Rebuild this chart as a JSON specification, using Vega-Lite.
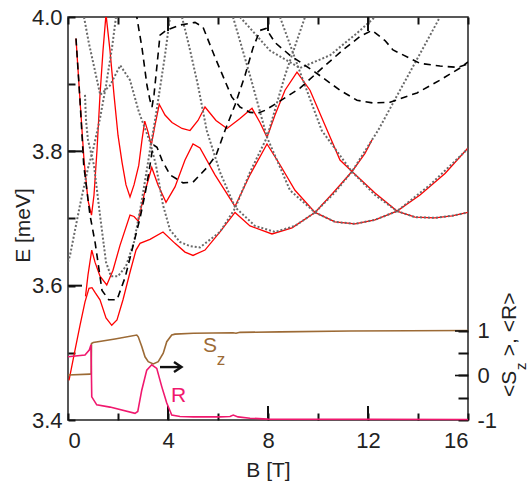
{
  "$schema": "https://vega.github.io/schema/vega-lite/v6.json",
  "width": 400,
  "height": 403,
  "autosize": "none",
  "padding": {"left": 68, "top": 17, "right": 59, "bottom": 65},
  "config": {
    "font": "Liberation Sans",
    "view": {"stroke": "#222", "strokeWidth": 1.5},
    "axis": {"grid": false, "domain": false, "ticks": true, "tickColor": "#111111", "tickWidth": 2, "labelColor": "#222", "titleColor": "#222", "labelFontSize": 22, "titleFontSize": 21, "titleFontWeight": "normal"}
  },
  "datasets": {
    "red": [
      {"s":"r1","B":0.32,"E":3.968},{"s":"r1","B":0.48,"E":3.876},{"s":"r1","B":0.64,"E":3.787},{"s":"r1","B":0.80,"E":3.727},{"s":"r1","B":0.94,"E":3.705},{"s":"r1","B":1.04,"E":3.735},{"s":"r1","B":1.16,"E":3.802},{"s":"r1","B":1.28,"E":3.884},{"s":"r1","B":1.40,"E":3.950},{"s":"r1","B":1.52,"E":4.004},{"s":"r1","B":1.68,"E":3.950},{"s":"r1","B":1.84,"E":3.884},{"s":"r1","B":2.00,"E":3.824},{"s":"r1","B":2.16,"E":3.784},{"s":"r1","B":2.32,"E":3.750},{"s":"r1","B":2.48,"E":3.732},{"s":"r1","B":2.64,"E":3.750},{"s":"r1","B":2.83,"E":3.779},{"s":"r1","B":2.96,"E":3.817},{"s":"r1","B":3.07,"E":3.845},{"s":"r1","B":3.20,"E":3.829},{"s":"r1","B":3.33,"E":3.809},{"s":"r1","B":3.48,"E":3.839},{"s":"r1","B":3.65,"E":3.870},{"s":"r1","B":3.88,"E":3.854},{"s":"r1","B":4.16,"E":3.843},{"s":"r1","B":4.56,"E":3.834},{"s":"r1","B":4.88,"E":3.831},{"s":"r1","B":5.20,"E":3.846},{"s":"r1","B":5.48,"E":3.866},{"s":"r1","B":5.92,"E":3.846},{"s":"r1","B":6.36,"E":3.834},{"s":"r1","B":6.88,"E":3.849},{"s":"r1","B":7.36,"E":3.864},{"s":"r1","B":7.68,"E":3.843},{"s":"r1","B":7.96,"E":3.821},{"s":"r1","B":8.28,"E":3.854},{"s":"r1","B":8.68,"E":3.891},{"s":"r1","B":9.16,"E":3.918},{"s":"r1","B":9.68,"E":3.891},{"s":"r1","B":10.28,"E":3.839},{"s":"r1","B":10.88,"E":3.787},{"s":"r1","B":11.36,"E":3.770},{"s":"r1","B":12.28,"E":3.738},{"s":"r1","B":13.16,"E":3.711},{"s":"r1","B":13.88,"E":3.702},{"s":"r1","B":14.68,"E":3.701},{"s":"r1","B":15.36,"E":3.704},{"s":"r1","B":16.0,"E":3.709},
      {"s":"r2","B":0.70,"E":3.584},{"s":"r2","B":0.80,"E":3.616},{"s":"r2","B":0.95,"E":3.653},{"s":"r2","B":1.08,"E":3.635},{"s":"r2","B":1.28,"E":3.614},{"s":"r2","B":1.55,"E":3.601},{"s":"r2","B":1.80,"E":3.623},{"s":"r2","B":2.08,"E":3.660},{"s":"r2","B":2.48,"E":3.705},{"s":"r2","B":2.64,"E":3.703},{"s":"r2","B":2.81,"E":3.696},{"s":"r2","B":3.04,"E":3.735},{"s":"r2","B":3.35,"E":3.776},{"s":"r2","B":3.60,"E":3.750},{"s":"r2","B":3.92,"E":3.724},{"s":"r2","B":4.28,"E":3.747},{"s":"r2","B":4.68,"E":3.787},{"s":"r2","B":5.00,"E":3.811},{"s":"r2","B":5.28,"E":3.805},{"s":"r2","B":5.88,"E":3.765},{"s":"r2","B":6.68,"E":3.718},{"s":"r2","B":7.28,"E":3.765},{"s":"r2","B":7.96,"E":3.811},{"s":"r2","B":8.48,"E":3.780},{"s":"r2","B":9.08,"E":3.742},{"s":"r2","B":9.88,"E":3.709},{"s":"r2","B":10.68,"E":3.695},{"s":"r2","B":11.48,"E":3.692},{"s":"r2","B":12.28,"E":3.698},{"s":"r2","B":13.16,"E":3.711},{"s":"r2","B":14.08,"E":3.735},{"s":"r2","B":15.08,"E":3.767},{"s":"r2","B":16.0,"E":3.805},
      {"s":"r3","B":0.04,"E":3.459},{"s":"r3","B":0.28,"E":3.504},{"s":"r3","B":0.48,"E":3.541},{"s":"r3","B":0.68,"E":3.576},{"s":"r3","B":0.84,"E":3.596},{"s":"r3","B":0.96,"E":3.597},{"s":"r3","B":1.08,"E":3.590},{"s":"r3","B":1.28,"E":3.579},{"s":"r3","B":1.52,"E":3.552},{"s":"r3","B":1.75,"E":3.541},{"s":"r3","B":1.96,"E":3.549},{"s":"r3","B":2.20,"E":3.579},{"s":"r3","B":2.48,"E":3.620},{"s":"r3","B":2.72,"E":3.653},{"s":"r3","B":2.88,"E":3.663},{"s":"r3","B":3.28,"E":3.669},{"s":"r3","B":3.80,"E":3.680},{"s":"r3","B":4.28,"E":3.663},{"s":"r3","B":4.68,"E":3.650},{"s":"r3","B":5.00,"E":3.645},{"s":"r3","B":5.48,"E":3.653},{"s":"r3","B":6.08,"E":3.680},{"s":"r3","B":6.68,"E":3.709},{"s":"r3","B":7.28,"E":3.689},{"s":"r3","B":8.16,"E":3.677},{"s":"r3","B":8.96,"E":3.686},{"s":"r3","B":9.88,"E":3.709},{"s":"r3","B":10.60,"E":3.738},{"s":"r3","B":11.36,"E":3.770},{"s":"r3","B":11.88,"E":3.797},{"s":"r3","B":12.16,"E":3.817}
    ],
    "dot": [
      {"s":"dA","B":0.0,"E":3.635},{"s":"dA","B":0.08,"E":3.645},{"s":"dA","B":0.48,"E":3.720},{"s":"dA","B":0.80,"E":3.775},{"s":"dA","B":1.00,"E":3.802},{"s":"dA","B":1.28,"E":3.849},{"s":"dA","B":1.52,"E":3.898},{"s":"dA","B":1.76,"E":3.954},{"s":"dA","B":1.92,"E":4.0},
      {"s":"dB","B":0.64,"E":4.0},{"s":"dB","B":0.83,"E":3.962},{"s":"dB","B":1.09,"E":3.918},{"s":"dB","B":1.29,"E":3.884},{"s":"dB","B":1.68,"E":3.898},{"s":"dB","B":2.09,"E":3.928},{"s":"dB","B":2.48,"E":3.906},{"s":"dB","B":2.84,"E":3.858},{"s":"dB","B":3.28,"E":3.814},{"s":"dB","B":3.52,"E":3.779},{"s":"dB","B":3.80,"E":3.720},{"s":"dB","B":4.08,"E":3.683},{"s":"dB","B":4.48,"E":3.665},{"s":"dB","B":4.88,"E":3.659},{"s":"dB","B":5.28,"E":3.657},{"s":"dB","B":6.08,"E":3.680},{"s":"dB","B":6.68,"E":3.715},{"s":"dB","B":7.28,"E":3.769},{"s":"dB","B":7.96,"E":3.821},{"s":"dB","B":8.68,"E":3.913},{"s":"dB","B":9.48,"E":4.0},
      {"s":"dG","B":0.68,"E":3.884},{"s":"dG","B":0.72,"E":3.846},{"s":"dG","B":0.80,"E":3.817},{"s":"dG","B":1.04,"E":3.779},{"s":"dG","B":1.28,"E":3.705},{"s":"dG","B":1.52,"E":3.635},{"s":"dG","B":1.72,"E":3.614},{"s":"dG","B":2.00,"E":3.614},{"s":"dG","B":2.32,"E":3.629},{"s":"dG","B":2.64,"E":3.665},{"s":"dG","B":2.92,"E":3.720},{"s":"dG","B":3.12,"E":3.765},{"s":"dG","B":3.28,"E":3.802},{"s":"dG","B":3.48,"E":3.846},{"s":"dG","B":3.68,"E":3.894},{"s":"dG","B":3.88,"E":3.943},{"s":"dG","B":4.08,"E":4.0},
      {"s":"dC","B":4.56,"E":4.0},{"s":"dC","B":4.88,"E":3.951},{"s":"dC","B":5.20,"E":3.898},{"s":"dC","B":5.55,"E":3.831},{"s":"dC","B":6.08,"E":3.769},{"s":"dC","B":6.68,"E":3.717},{"s":"dC","B":7.48,"E":3.689},{"s":"dC","B":8.28,"E":3.680},{"s":"dC","B":9.08,"E":3.689},{"s":"dC","B":9.88,"E":3.709},{"s":"dC","B":10.68,"E":3.739},{"s":"dC","B":11.36,"E":3.770},{"s":"dC","B":12.40,"E":3.831},{"s":"dC","B":13.68,"E":3.918},{"s":"dC","B":14.88,"E":4.0},
      {"s":"dD","B":6.60,"E":4.0},{"s":"dD","B":7.28,"E":3.913},{"s":"dD","B":7.96,"E":3.821},{"s":"dD","B":8.88,"E":3.742},{"s":"dD","B":9.88,"E":3.709},{"s":"dD","B":10.68,"E":3.695},{"s":"dD","B":11.48,"E":3.692},{"s":"dD","B":12.28,"E":3.698},{"s":"dD","B":13.16,"E":3.711},{"s":"dD","B":14.48,"E":3.750},{"s":"dD","B":16.0,"E":3.804},
      {"s":"dE","B":8.48,"E":4.0},{"s":"dE","B":9.28,"E":3.918},{"s":"dE","B":10.15,"E":3.831},{"s":"dE","B":11.35,"E":3.770},{"s":"dE","B":12.28,"E":3.735},{"s":"dE","B":13.16,"E":3.711},{"s":"dE","B":13.88,"E":3.702},{"s":"dE","B":14.68,"E":3.701},{"s":"dE","B":15.36,"E":3.704},{"s":"dE","B":16.0,"E":3.709},
      {"s":"dF","B":6.88,"E":4.0},{"s":"dF","B":8.08,"E":3.950},{"s":"dF","B":9.28,"E":3.924},{"s":"dF","B":10.48,"E":3.943},{"s":"dF","B":11.56,"E":3.976},{"s":"dF","B":12.28,"E":4.0}
    ],
    "dash": [
      {"s":"kU","B":2.72,"E":4.007},{"s":"kU","B":2.96,"E":3.954},{"s":"kU","B":3.16,"E":3.898},{"s":"kU","B":3.28,"E":3.876},{"s":"kU","B":3.36,"E":3.866},{"s":"kU","B":3.44,"E":3.884},{"s":"kU","B":3.56,"E":3.928},{"s":"kU","B":3.68,"E":3.973},{"s":"kU","B":3.92,"E":3.980},{"s":"kU","B":4.48,"E":3.988},{"s":"kU","B":5.08,"E":3.992},{"s":"kU","B":5.40,"E":3.985},{"s":"kU","B":5.88,"E":3.940},{"s":"kU","B":6.55,"E":3.881},{"s":"kU","B":6.88,"E":3.866},{"s":"kU","B":7.28,"E":3.858},{"s":"kU","B":7.60,"E":3.857},{"s":"kU","B":7.88,"E":3.861},{"s":"kU","B":8.36,"E":3.872},{"s":"kU","B":9.28,"E":3.894},{"s":"kU","B":10.20,"E":3.925},{"s":"kU","B":11.00,"E":3.951},{"s":"kU","B":11.68,"E":3.971},{"s":"kU","B":12.16,"E":3.980},{"s":"kU","B":12.68,"E":3.965},{"s":"kU","B":13.00,"E":3.951},{"s":"kU","B":14.08,"E":3.931},{"s":"kU","B":14.88,"E":3.927},{"s":"kU","B":15.60,"E":3.925},{"s":"kU","B":16.0,"E":3.930},
      {"s":"kL","B":0.32,"E":3.968},{"s":"kL","B":0.48,"E":3.876},{"s":"kL","B":0.63,"E":3.779},{"s":"kL","B":0.88,"E":3.705},{"s":"kL","B":1.09,"E":3.663},{"s":"kL","B":1.36,"E":3.593},{"s":"kL","B":1.63,"E":3.579},{"s":"kL","B":1.96,"E":3.579},{"s":"kL","B":2.29,"E":3.613},{"s":"kL","B":2.56,"E":3.653},{"s":"kL","B":2.89,"E":3.702},{"s":"kL","B":3.09,"E":3.738},{"s":"kL","B":3.25,"E":3.772},{"s":"kL","B":3.36,"E":3.799},{"s":"kL","B":3.44,"E":3.809},{"s":"kL","B":3.56,"E":3.806},{"s":"kL","B":3.76,"E":3.787},{"s":"kL","B":4.08,"E":3.765},{"s":"kL","B":4.60,"E":3.753},{"s":"kL","B":5.00,"E":3.754},{"s":"kL","B":5.56,"E":3.776},{"s":"kL","B":5.92,"E":3.794},{"s":"kL","B":6.28,"E":3.831},{"s":"kL","B":6.68,"E":3.869},{"s":"kL","B":7.08,"E":3.913},{"s":"kL","B":7.40,"E":3.954},{"s":"kL","B":7.68,"E":3.980},{"s":"kL","B":7.92,"E":3.983},{"s":"kL","B":8.28,"E":3.962},{"s":"kL","B":8.88,"E":3.943},{"s":"kL","B":9.88,"E":3.918},{"s":"kL","B":10.88,"E":3.891},{"s":"kL","B":11.56,"E":3.876},{"s":"kL","B":12.20,"E":3.872},{"s":"kL","B":12.88,"E":3.873},{"s":"kL","B":13.96,"E":3.887},{"s":"kL","B":14.88,"E":3.906},{"s":"kL","B":15.68,"E":3.924},{"s":"kL","B":16.0,"E":3.933}
    ],
    "expect": [
      {"q":"Sz","p":"Sz","B":0.0,"v":0.01},{"q":"Sz","p":"Sz","B":0.88,"v":0.03},{"q":"Sz","p":"Sz","B":0.93,"v":0.04},{"q":"Sz","p":"Sz","B":0.94,"v":0.72},{"q":"Sz","p":"Sz","B":1.01,"v":0.74},{"q":"Sz","p":"Sz","B":1.88,"v":0.82},{"q":"Sz","p":"Sz","B":2.75,"v":0.91},{"q":"Sz","p":"Sz","B":2.81,"v":0.87},{"q":"Sz","p":"Sz","B":2.95,"v":0.65},{"q":"Sz","p":"Sz","B":3.08,"v":0.42},{"q":"Sz","p":"Sz","B":3.21,"v":0.31},{"q":"Sz","p":"Sz","B":3.41,"v":0.26},{"q":"Sz","p":"Sz","B":3.61,"v":0.31},{"q":"Sz","p":"Sz","B":3.81,"v":0.50},{"q":"Sz","p":"Sz","B":3.95,"v":0.76},{"q":"Sz","p":"Sz","B":4.15,"v":0.91},{"q":"Sz","p":"Sz","B":4.28,"v":0.93},{"q":"Sz","p":"Sz","B":5.01,"v":0.95},{"q":"Sz","p":"Sz","B":6.6,"v":0.96},{"q":"Sz","p":"Sz","B":6.72,"v":0.95},{"q":"Sz","p":"Sz","B":6.88,"v":0.97},{"q":"Sz","p":"Sz","B":8.48,"v":0.98},{"q":"Sz","p":"Sz","B":11.28,"v":1.0},{"q":"Sz","p":"Sz","B":16.0,"v":1.01},
      {"q":"R","p":"R","B":0.0,"v":0.42},{"q":"R","p":"R","B":0.68,"v":0.46},{"q":"R","p":"R","B":0.85,"v":0.57},{"q":"R","p":"R","B":0.92,"v":0.69},{"q":"R","p":"R","B":0.95,"v":-0.48},{"q":"R","p":"R","B":1.15,"v":-0.66},{"q":"R","p":"R","B":1.68,"v":-0.71},{"q":"R","p":"R","B":2.68,"v":-0.85},{"q":"R","p":"R","B":2.79,"v":-0.81},{"q":"R","p":"R","B":2.95,"v":-0.33},{"q":"R","p":"R","B":3.15,"v":0.12},{"q":"R","p":"R","B":3.35,"v":0.24},{"q":"R","p":"R","B":3.55,"v":0.16},{"q":"R","p":"R","B":3.75,"v":-0.25},{"q":"R","p":"R","B":3.95,"v":-0.62},{"q":"R","p":"R","B":4.15,"v":-0.89},{"q":"R","p":"R","B":4.48,"v":-0.92},{"q":"R","p":"R","B":5.01,"v":-0.93},{"q":"R","p":"R","B":6.08,"v":-0.93},{"q":"R","p":"R","B":6.48,"v":-0.92},{"q":"R","p":"R","B":6.61,"v":-0.89},{"q":"R","p":"R","B":6.8,"v":-0.93},{"q":"R","p":"R","B":7.28,"v":-0.96},{"q":"R","p":"R","B":8.0,"v":-0.98},{"q":"R","p":"R","B":16.0,"v":-0.99},
      {"q":"tick","p":"v0","B":15.48,"v":0},{"q":"tick","p":"v0","B":16,"v":0},
      {"q":"tick","p":"v1","B":15.48,"v":1},{"q":"tick","p":"v1","B":16,"v":1}
    ],
    "strokes": [
      {"p":"shaft","i":0,"B":3.68,"E":3.4788},{"p":"shaft","i":1,"B":4.52,"E":3.4788},
      {"p":"head","i":0,"B":4.24,"E":3.4862},{"p":"head","i":1,"B":4.54,"E":3.4788},{"p":"head","i":2,"B":4.24,"E":3.4713},
      {"p":"b4","i":0,"B":4,"E":3.4},{"p":"b4","i":1,"B":4,"E":3.4208},
      {"p":"b8","i":0,"B":8,"E":3.4},{"p":"b8","i":1,"B":8,"E":3.4208},
      {"p":"b12","i":0,"B":12,"E":3.4},{"p":"b12","i":1,"B":12,"E":3.4208},
      {"p":"t4","i":0,"B":4,"E":4.0},{"p":"t4","i":1,"B":4,"E":3.9792},
      {"p":"t8","i":0,"B":8,"E":4.0},{"p":"t8","i":1,"B":8,"E":3.9792},
      {"p":"t12","i":0,"B":12,"E":4.0},{"p":"t12","i":1,"B":12,"E":3.9792},
      {"p":"l36","i":0,"B":0,"E":3.6},{"p":"l36","i":1,"B":0.56,"E":3.6},
      {"p":"l38","i":0,"B":0,"E":3.8},{"p":"l38","i":1,"B":0.56,"E":3.8}
    ],
    "notes": [
      {"t":"S","c":"Sz","B":5.68,"E":3.5108,"big":true},
      {"t":"R","c":"R","B":4.42,"E":3.4364,"big":true},
      {"t":"z","c":"Sz","B":6.12,"E":3.4892,"big":false}
    ],
    "sideTitle": [
      {"t":"<S","B":17.9,"E":3.4342,"big":true},
      {"t":"z","B":18.3,"E":3.4745,"big":false},
      {"t":">, <R>","B":17.9,"E":3.4950,"big":true}
    ]
  },
  "layer": [
    {
      "data": {"name": "red"},
      "mark": {"type": "line", "clip": true, "color": "#ff0000", "strokeWidth": 1.3},
      "encoding": {
        "x": {"field": "B", "type": "quantitative", "scale": {"domain": [0, 16], "nice": false, "zero": false},
              "axis": {"orient": "bottom", "values": [0,2,4,6,8,10,12,14,16], "labelExpr": "datum.value % 4 == 0 ? datum.label : ''", "tickSize": -7, "labelPadding": 17, "title": "B [T]", "titlePadding": 8}},
        "y": {"field": "E", "type": "quantitative", "scale": {"domain": [3.4, 4.0], "nice": false, "zero": false},
              "axis": {"orient": "left", "values": [3.4,3.5,3.6,3.7,3.8,3.9,4.0], "labelExpr": "round(datum.value*10) % 2 == 0 ? format(datum.value, '.1f') : ''", "tickSize": -7, "labelPadding": 13, "title": "E [meV]", "titlePadding": -2, "titleY": 208}},
        "detail": {"field": "s"}
      }
    },
    {
      "data": {"name": "dot"},
      "mark": {"type": "line", "clip": true, "color": "#6a6a6a", "strokeWidth": 2, "strokeDash": [2, 2]},
      "encoding": {
        "x": {"field": "B", "type": "quantitative",
              "axis": {"orient": "top", "values": [0,2,4,6,8,10,12,14,16], "labels": false, "title": null, "tickSize": -7}},
        "y": {"field": "E", "type": "quantitative", "scale": {"domain": [3.4, 4.0], "nice": false, "zero": false}, "axis": null},
        "detail": {"field": "s"}
      }
    },
    {
      "data": {"name": "dash"},
      "mark": {"type": "line", "clip": true, "color": "#000000", "strokeWidth": 1.6, "strokeDash": [7, 5]},
      "encoding": {
        "x": {"field": "B", "type": "quantitative", "axis": null},
        "y": {"field": "E", "type": "quantitative", "scale": {"domain": [3.4, 4.0], "nice": false, "zero": false}, "axis": null},
        "detail": {"field": "s"}
      }
    },
    {
      "data": {"name": "strokes"},
      "mark": {"type": "line", "color": "#111111"},
      "encoding": {
        "x": {"field": "B", "type": "quantitative", "axis": null},
        "y": {"field": "E", "type": "quantitative", "scale": {"domain": [3.4, 4.0], "nice": false, "zero": false}, "axis": null},
        "detail": {"field": "p"},
        "order": {"field": "i"},
        "strokeWidth": {"condition": {"test": "datum.p == 'shaft' || datum.p == 'head'", "value": 2.4}, "value": 2}
      }
    },
    {
      "data": {"name": "notes"},
      "mark": {"type": "text", "font": "Liberation Sans", "align": "center", "baseline": "middle"},
      "encoding": {
        "x": {"field": "B", "type": "quantitative", "axis": null},
        "y": {"field": "E", "type": "quantitative", "scale": {"domain": [3.4, 4.0], "nice": false, "zero": false}, "axis": null},
        "text": {"field": "t"},
        "size": {"field": "big", "type": "nominal", "scale": {"domain": [true, false], "range": [21, 17]}, "legend": null},
        "color": {"field": "c", "type": "nominal", "scale": {"domain": ["Sz", "R"], "range": ["#9c6a35", "#f0186e"]}, "legend": null}
      }
    },
    {
      "data": {"name": "sideTitle"},
      "mark": {"type": "text", "font": "Liberation Sans", "angle": 270, "align": "left", "baseline": "alphabetic", "color": "#222"},
      "encoding": {
        "x": {"field": "B", "type": "quantitative", "axis": null},
        "y": {"field": "E", "type": "quantitative", "scale": {"domain": [3.4, 4.0], "nice": false, "zero": false}, "axis": null},
        "text": {"field": "t"},
        "size": {"field": "big", "type": "nominal", "scale": {"domain": [true, false], "range": [21, 15]}, "legend": null}
      }
    },
    {
      "data": {"name": "expect"},
      "mark": {"type": "line", "strokeWidth": 1.6},
      "encoding": {
        "x": {"field": "B", "type": "quantitative", "axis": null},
        "y": {"field": "v", "type": "quantitative", "scale": {"domain": [-1, 8.056], "nice": false, "zero": false},
              "axis": {"orient": "right", "values": [-1,-0.5,0,0.5,1], "labelExpr": "datum.value == -1 ? '-1' : (datum.value == 0 || datum.value == 1) ? datum.label : ''", "tickSize": -10, "labelPadding": 19, "title": null}},
        "color": {"field": "q", "type": "nominal", "scale": {"domain": ["Sz", "R", "tick"], "range": ["#9c6a35", "#f0186e", "#111111"]}, "legend": null},
        "detail": {"field": "p"}
      }
    }
  ],
  "resolve": {"scale": {"y": "independent", "color": "independent", "size": "independent"}}
}
